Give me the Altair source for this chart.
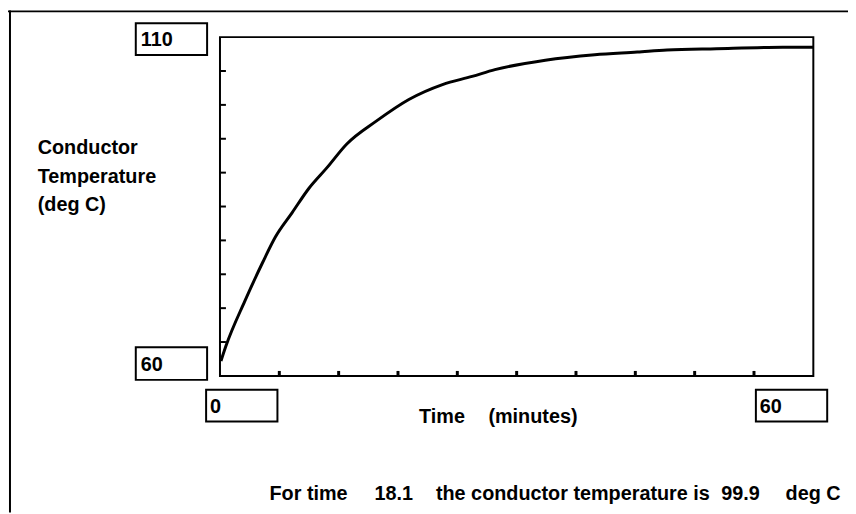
import altair as alt
import pandas as pd

# ---- data ----
time_min = [0.1, 0.6, 2.5, 4.3, 5.6, 7.3, 9.0, 10.8, 12.8, 15.8, 19.1, 22.5,
            25.5, 27.8, 32.9, 37.9, 42.2, 45.2, 50.2, 56.9, 60.0]
temp_c = [62.2, 64.4, 71.0, 76.7, 80.5, 84.1, 87.7, 90.7, 94.2, 97.6, 100.8,
          103.0, 104.2, 105.2, 106.6, 107.4, 107.8, 108.1, 108.3, 108.5, 108.5]
y_ticks = [65, 70, 75, 80, 85, 90, 95, 100, 105]
x_ticks = [6, 12, 18, 24, 30, 36, 42, 48, 54]
y_min_label, y_max_label = "60", "110"
x_min_label, x_max_label = "0", "60"
y_title = ["Conductor", "Temperature", "(deg C)"]
x_title = ["Time", "(minutes)"]
readout_time = "18.1"
readout_temp = "99.9"

FONT = "Liberation Sans"
FS = 20

curve_df = pd.DataFrame({"t": time_min, "v": temp_c})
one = pd.DataFrame({"a": [0]})

xs = alt.Scale(domain=[0, 60], nice=False, zero=False)
ys = alt.Scale(domain=[60, 110], nice=False, zero=False)

curve = alt.Chart(curve_df).mark_line(
    color="black", strokeWidth=3, interpolate="monotone"
).encode(
    x=alt.X("t:Q", scale=xs, axis=None),
    y=alt.Y("v:Q", scale=ys, axis=None),
)

ytick_layer = alt.Chart(pd.DataFrame({"v": y_ticks})).mark_rule(
    color="black", strokeWidth=2
).encode(
    y=alt.Y("v:Q", scale=ys, axis=None),
    x=alt.value(0), x2=alt.value(6),
)

xtick_layer = alt.Chart(pd.DataFrame({"t": x_ticks})).mark_rule(
    color="black", strokeWidth=3
).encode(
    x=alt.X("t:Q", scale=xs, axis=None),
    y=alt.value(337), y2=alt.value(342),
)


def box(x0, x1, y0, y1):
    return alt.Chart(one).mark_rect(
        fill="white", stroke="black", strokeWidth=2
    ).encode(x=alt.value(x0), x2=alt.value(x1), y=alt.value(y0), y2=alt.value(y1))


def label(txt, x, y, baseline="middle"):
    return alt.Chart(one).mark_text(
        font=FONT, fontSize=FS, fontWeight="bold", color="black",
        align="left", baseline=baseline
    ).encode(x=alt.value(x), y=alt.value(y), text=alt.value(txt))


layers = [
    # outer window frame (left and top edges)
    alt.Chart(one).mark_rule(color="black", strokeWidth=2).encode(
        x=alt.value(-212), y=alt.value(-27), y2=alt.value(480)),
    alt.Chart(one).mark_rule(color="black", strokeWidth=2).encode(
        x=alt.value(-214), x2=alt.value(640), y=alt.value(-26)),
    box(-85, -13, -14, 18), label(y_max_label, -80, 3),
    box(-85, -13, 313, 346), label(y_min_label, -80, 331),
    box(-14, 58, 356, 388), label(x_min_label, -10, 373),
    box(541, 613, 356, 388), label(x_max_label, 545, 373),
    alt.Chart(one).mark_text(
        font=FONT, fontSize=FS, fontWeight="bold", color="black",
        align="left", baseline="alphabetic", lineBreak="\n", lineHeight=29
    ).encode(x=alt.value(-184), y=alt.value(118), text=alt.value("\n".join(y_title))),
    label(x_title[0], 201, 390, "alphabetic"),
    label(x_title[1], 271, 390, "alphabetic"),
    label("For time", 50, 467, "alphabetic"),
    label(readout_time, 156, 467, "alphabetic"),
    label("the conductor temperature is", 218, 467, "alphabetic"),
    label(readout_temp, 506, 467, "alphabetic"),
    label("deg C", 571, 467, "alphabetic"),
    ytick_layer, xtick_layer, curve,
]

chart = alt.layer(*layers).properties(
    width=599, height=342,
    padding={"left": 214, "top": 27, "right": 35, "bottom": 137},
    autosize="none", background="white",
).configure_view(stroke="black", strokeWidth=2)

chart.save("out.html", embed_options={"renderer": "svg", "actions": False})
